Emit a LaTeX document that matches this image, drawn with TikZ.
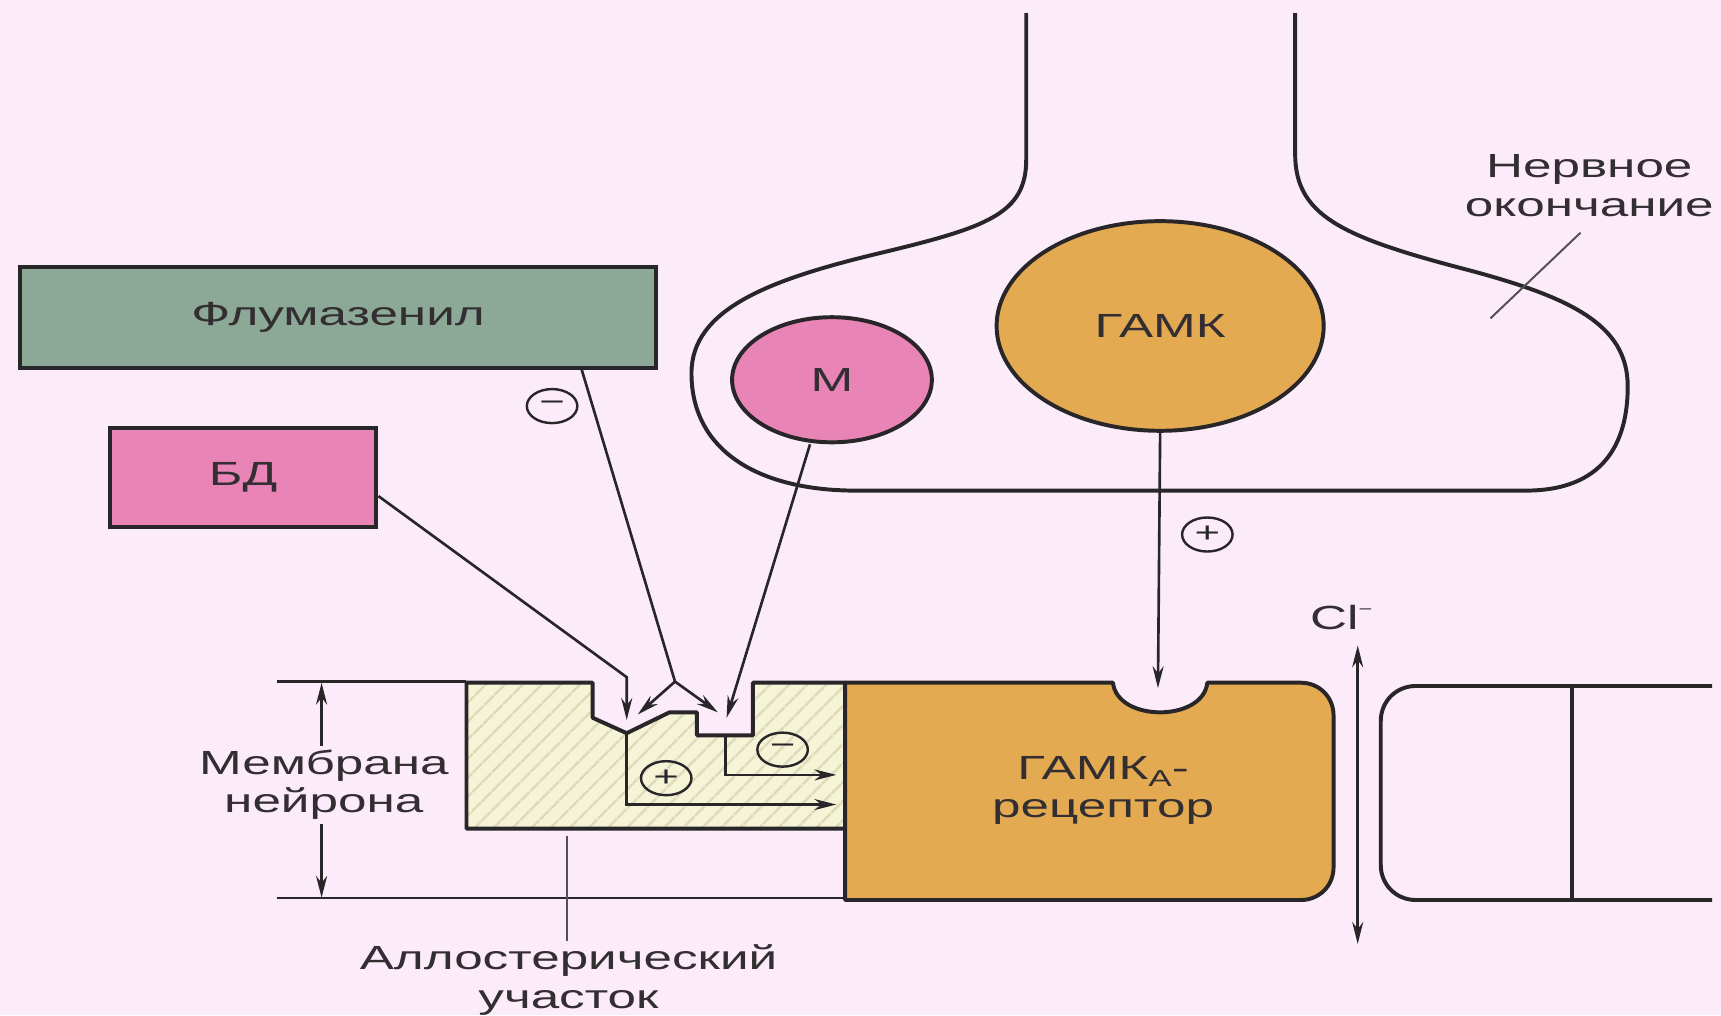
\documentclass[tikz,border=0pt]{standalone}
\usepackage{fontspec}
\setmainfont[FakeStretch=1.53]{Liberation Sans}
\usetikzlibrary{arrows.meta,patterns.meta,shapes.geometric}
\definecolor{bg}{RGB}{252,236,250}
\definecolor{ink}{RGB}{40,38,40}
\definecolor{txt}{RGB}{50,46,50}
\definecolor{flum}{RGB}{140,168,150}
\definecolor{pinkf}{RGB}{232,132,182}
\definecolor{gold}{RGB}{228,170,82}
\definecolor{hatchbg}{RGB}{246,244,214}
\definecolor{hatchln}{RGB}{222,218,185}
\begin{document}
\begin{tikzpicture}[x=1pt,y=-1pt,
  every node/.style={font=\fontsize{30.5}{35}\selectfont, text=txt, align=center},
  outline/.style={draw=ink, line width=3.6pt, line join=round},
  box/.style={draw=ink, line width=3.6pt, rectangle, inner sep=0pt},
  blob/.style={draw=ink, line width=3.6pt, ellipse, inner sep=0pt},
  conn/.style={draw=ink, line width=2.4pt, -{Stealth[length=20pt,width=10pt]}},
  sign/.style={ellipse, draw=ink, line width=2.2pt, minimum width=46pt, minimum height=31pt, inner sep=0pt, font=\fontsize{26}{26}\selectfont, text=ink},
  memline/.style={draw=ink, line width=2.2pt},
  leader/.style={draw=ink!80, line width=1.8pt}]
\useasboundingbox (0,0) rectangle (1568,925);
\fill[bg] (0,0) rectangle (1568,925);

% nerve terminal
\draw[outline] (935,12) -- (935,145) .. controls (935,195) and (900,207) .. (800,231)
  .. controls (700,255) and (630,282) .. (630,340)
  .. controls (630,410) and (690,447) .. (780,447) -- (1390,447)
  .. controls (1460,447) and (1483,405) .. (1483,352)
  .. controls (1483,295) and (1430,270) .. (1330,244)
  .. controls (1220,215) and (1180,195) .. (1180,140) -- (1180,12);

% boxes and vesicles
\node[box, fill=flum, minimum width=580pt, minimum height=92pt] (flu) at (308,289) {Флумазенил};
\node[box, fill=pinkf, minimum width=243pt, minimum height=90pt] (bd) at (221.5,435) {БД};
\node[blob, fill=pinkf, minimum width=182pt, minimum height=114pt] (m) at (758,346) {М};
\node[blob, fill=gold, minimum width=298pt, minimum height=191pt] (gaba) at (1057,297) {ГАМК};

% membrane lines
\draw[memline] (252,621) -- (425,621);
\draw[memline] (252,818) -- (770,818);

% allosteric block
\draw[outline, preaction={fill=hatchbg}, preaction={pattern={Lines[angle=45,distance=13pt,line width=2.5pt]}, pattern color=hatchln}]
  (425,622) -- (540,622) -- (540,654) -- (571,668) -- (610,649) -- (635,649) -- (635,670)
  -- (686,670) -- (686,622) -- (770,622) -- (770,755) -- (425,755) -- cycle;

% receptor
\draw[outline, fill=gold] (770,622) -- (1014,622) .. controls (1018,658) and (1096,658) .. (1100,622)
  -- (1185,622) .. controls (1202,622) and (1215,635) .. (1215,652) -- (1215,790)
  .. controls (1215,807) and (1202,820) .. (1185,820) -- (770,820) -- cycle;
\node (rec) at (1005,720) {ГАМК\raisebox{-7pt}{\fontsize{21}{21}\selectfont A}-\\рецептор};

% right channel part
\draw[outline] (1560,625) -- (1290,625) .. controls (1272,625) and (1258,639) .. (1258,657)
  -- (1258,788) .. controls (1258,806) and (1272,820) .. (1290,820) -- (1560,820);
\draw[outline] (1432,625) -- (1432,820);

% coordinates
\coordinate (bdbend) at (571,617);
\coordinate (bdtip) at (571,656);
\coordinate (fork) at (615,621);
\coordinate (ftipl) at (581,651);
\coordinate (ftipr) at (654,649);
\coordinate (mtip) at (662,654);
\coordinate (gtip) at (1055,627);
\coordinate (lb) at (571,668);
\coordinate (rb) at (661,670);
\coordinate (ltip) at (762,733);
\coordinate (rtip) at (762,706);

% connectors
\draw[conn] (bd.east |- 0,452) -- (bdbend) -- (bdtip);
\draw[draw=ink, line width=2.4pt] (flu.south -| 530,0) -- (fork);
\draw[conn] (fork) -- (ftipl);
\draw[conn] (fork) -- (ftipr);
\draw[conn] (m.south -| 738,0) -- (mtip);
\draw[conn] (gaba.south) -- (gtip);
\draw[conn] (lb) |- (ltip);
\draw[conn] (rb) |- (rtip);

% signs
\node[sign] (s1) at (503,370) {−};
\node[sign] (s2) at (1100,487) {+};
\node[sign] (s3) at (607,709) {+};
\node[sign] (s4) at (713,683) {−};

% labels
\node (nerve) at (1448,169) {Нервное\\окончание};
\coordinate (nl1) at (1440,212);
\coordinate (nl2) at (1358,290);
\draw[leader] (nl1) -- (nl2);

\node (mem) at (295,715) {Мембрана\\нейрона};
\coordinate (memtop) at (293,622);
\coordinate (membot) at (293,818);
\draw[conn] (mem.north -| memtop) -- (memtop);
\draw[conn] (mem.south -| membot) -- (membot);

\node (allo) at (518,893) {Аллостерический\\участок};
\coordinate (alloend) at (517,762);
\draw[leader] (allo.north -| alloend) -- (alloend);

\node (cl) at (1222,563) {Cl\raisebox{14pt}{\fontsize{14}{14}\selectfont −}};
\coordinate (cltop) at (1237,588);
\coordinate (clbot) at (1237,860);
\draw[draw=ink, line width=2.4pt, {Stealth[length=20pt,width=10pt]}-{Stealth[length=20pt,width=10pt]}] (clbot) -- (cltop);
\end{tikzpicture}
\end{document}
